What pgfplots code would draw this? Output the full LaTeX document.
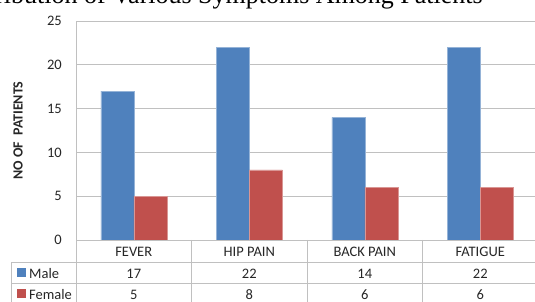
\documentclass[border=0pt]{standalone}
\usepackage{fontspec}
\setmainfont{Carlito}
\newfontfamily\titlefont{Liberation Serif}
\usepackage{pgfplots}
\usepackage{pgfplotstable}
\pgfplotsset{compat=1.18}
\definecolor{male}{HTML}{4F81BD}
\definecolor{female}{HTML}{C0504D}
\definecolor{gridc}{HTML}{C0C0C0}
\pgfplotstableread{
x male female
0.5 17 5
1.5 22 8
2.5 14 6
3.5 22 6
}\datatable
\begin{document}
\begin{tikzpicture}[x=1pt,y=1pt]
\useasboundingbox (0,0) rectangle (535,302);
\node[anchor=base east, inner sep=0pt, font=\titlefont\fontsize{26}{30}\selectfont] at (483,298) {Distribution of Various Symptoms Among Patients};
\begin{axis}[
  at={(76pt,62pt)}, anchor=south west,
  scale only axis, width=462pt, height=219pt,
  xmin=0, xmax=4, ymin=0, ymax=25,
  ytick={0,5,...,25}, xtick=\empty,
  ymajorgrids, grid style={gridc, line width=0.9pt},
  axis y line*=left, axis x line*=bottom,
  axis line style={gridc, line width=0.9pt, -},
  major tick length=0pt,
  /pgf/number format/assume math mode=true,
  yticklabel style={anchor=east, inner sep=0pt, xshift=-14pt, font=\fontsize{14.5}{16}\selectfont, text=black!85},
  clip=false,
]
\addplot[ybar, bar width=0.2857, bar shift=-0.14286, fill=male, draw=male!60!white, line width=0.4pt] table[x=x, y=male] {\datatable};
\addplot[ybar, bar width=0.2857, bar shift=0.14286, fill=female, draw=female!60!white, line width=0.4pt] table[x=x, y=female] {\datatable};
\end{axis}
% data table
\begin{scope}[gridc, line width=0.9pt]
\draw (76,62) -- (540,62);
\draw (11,39.3) -- (540,39.3);
\draw (11,18.7) -- (540,18.7);
\draw (11,39.3) -- (11,-3);
\foreach \xx in {76,191.5,307,422.5} \draw (\xx,62) -- (\xx,-3);
\end{scope}
\begin{scope}[font=\fontsize{14.5}{16}\selectfont, text=black!85]
\foreach \xx/\lab in {133.75/FEVER,249.25/HIP PAIN,364.75/BACK PAIN,480.25/FATIGUE}
  \node[anchor=base, inner sep=0pt] at (\xx,45.5) {\lab};
\foreach \xx/\lab in {133.75/17,249.25/22,364.75/14,480.25/22}
  \node[anchor=base, inner sep=0pt] at (\xx,23) {\lab};
\foreach \xx/\lab in {133.75/5,249.25/8,364.75/6,480.25/6}
  \node[anchor=base, inner sep=0pt] at (\xx,2) {\lab};
\fill[male] (17,24.5) rectangle (26,33.5);
\fill[female] (17,3.9) rectangle (26,12.9);
\node[anchor=base west, inner sep=0pt] at (29,23) {Male};
\node[anchor=base west, inner sep=0pt] at (29,2) {Female};
\end{scope}
\node[rotate=90, inner sep=0pt, font=\bfseries\fontsize{14}{16}\selectfont, text=black!85] at (18,171.5) {NO OF~ PATIENTS};
\end{tikzpicture}
\end{document}
